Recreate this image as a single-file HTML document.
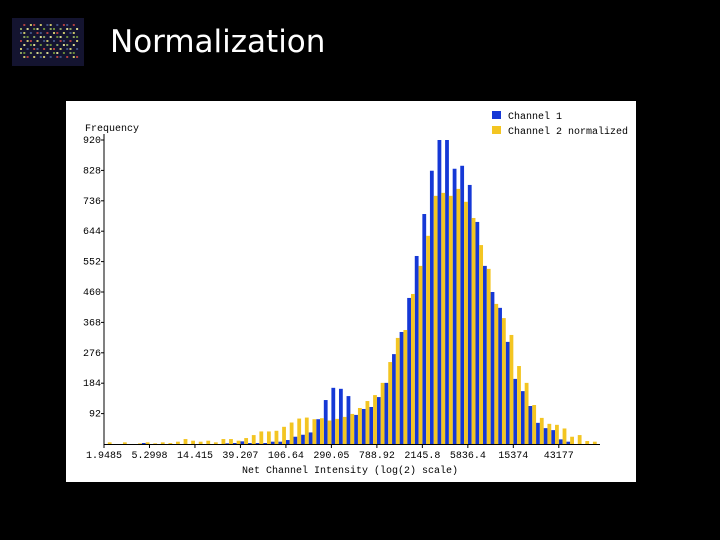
<!DOCTYPE html>
<html><head><meta charset="utf-8"><style>
body{margin:0;width:720px;height:540px;background:#000;overflow:hidden;font-family:"Liberation Sans",sans-serif}
#title{position:absolute;left:110px;top:24px;color:#fff;font-size:31px;font-family:"DejaVu Sans","Liberation Sans",sans-serif}
#icon{position:absolute;left:12px;top:18px;width:72px;height:48px;background:#141430}
#panel{position:absolute;left:66px;top:101px;width:570px;height:381px;background:#fff}
</style></head><body>
<div id="icon">
<svg width="72" height="48" id="iconsvg"></svg></div>
<div id="title">Normalization</div>
<div id="panel"></div>
<svg id="chart" width="720" height="540" style="position:absolute;left:0;top:0"></svg>
<script>
const yTicks=[92,184,276,368,460,552,644,736,828,920];
const xTickLabels=["1.9485","5.2998","14.415","39.207","106.64","290.05","788.92","2145.8","5836.4","15374","43177"];
const channel1=[0,0,0,0,0,3,0,0,0,0,0,0,0,0,0,0,2,3,8,3,3,3,7,7,12,22,28,35,75,133,170,167,145,88,106,112,142,185,272,339,442,569,696,827,920,920,833,842,784,672,539,460,412,309,197,160,115,64,48,42,14,7,0,0,0];
const channel2=[5,0,5,0,2,5,2,5,3,7,15,10,7,10,5,15,15,10,18,27,38,38,40,52,65,77,80,75,78,71,76,82,91,109,130,148,185,248,321,345,454,539,630,751,760,751,772,733,684,602,530,424,381,330,236,185,118,79,61,58,47,22,27,9,7];
const NS="http://www.w3.org/2000/svg";
const svg=document.getElementById('chart');
const x0=104,y0=444,binW=7.58,yMax=920,yTop=140;
function xs(i){return x0+i*binW;}
function ys(v){return y0-(v/yMax)*(y0-yTop);}
function mk(tag,attrs,parent){const e=document.createElementNS(NS,tag);for(const k in attrs)e.setAttribute(k,attrs[k]);(parent||svg).appendChild(e);return e;}
const font='"Liberation Mono",monospace';
channel1.forEach((v,i)=>{const r=mk('rect',{x:xs(i),y:ys(v),width:3.8,height:y0-ys(v),fill:'#1538d6'});

});
channel2.forEach((v,i)=>{const r=mk('rect',{x:xs(i)+3.8,y:ys(v),width:3.8,height:y0-ys(v),fill:'#f3c522'});

});
const ax=mk('line',{x1:x0,y1:134,x2:x0,y2:y0,stroke:'#000','stroke-width':1});


const bx=mk('line',{x1:x0,y1:y0+.5,x2:600,y2:y0+.5,stroke:'#000','stroke-width':1});


yTicks.forEach(v=>{mk('line',{x1:x0-3,y1:ys(v),x2:x0,y2:ys(v),stroke:'#000'});
const t=mk('text',{x:101,y:ys(v)+3,'font-family':font,'font-size':10,'text-anchor':'end',fill:'#000'});t.textContent=v;

});
xTickLabels.forEach((l,i)=>{const x=xs(i*6);mk('line',{x1:x,y1:y0,x2:x,y2:y0+4,stroke:'#000'});
const t=mk('text',{x:x,y:458,'font-family':font,'font-size':10,'text-anchor':'middle',fill:'#000'});t.textContent=l;

});
const yt=mk('text',{x:85,y:131,'font-family':font,'font-size':10,fill:'#000'});yt.textContent='Frequency';


const xt=mk('text',{x:350,y:473,'font-family':font,'font-size':10,'text-anchor':'middle',fill:'#000'});xt.textContent='Net Channel Intensity (log(2) scale)';


[['#1538d6','Channel 1',111],['#f3c522','Channel 2 normalized',126]].forEach(([c,l,y])=>{
const g=mk('g',{});


mk('rect',{x:492,y:y,width:9,height:8,fill:c},g);
const t=mk('text',{x:508,y:y+8,'font-family':font,'font-size':10,fill:'#000'},g);t.textContent=l;});
const ic=document.getElementById('iconsvg');
const cols=['#c9c36a','#6a8a3a','#b04040','#d8d890','#405080','#8aa060'];
for(let r=0;r<9;r++)for(let c=0;c<18;c++){if((r*7+c*3)%5<2)continue;
const e=document.createElementNS(NS,'rect');e.setAttribute('x',8+c*3.3);e.setAttribute('y',6+r*4);e.setAttribute('width',2);e.setAttribute('height',2);e.setAttribute('fill',cols[(r*5+c*2)%6]);ic.appendChild(e);}
</script>
</body></html>
